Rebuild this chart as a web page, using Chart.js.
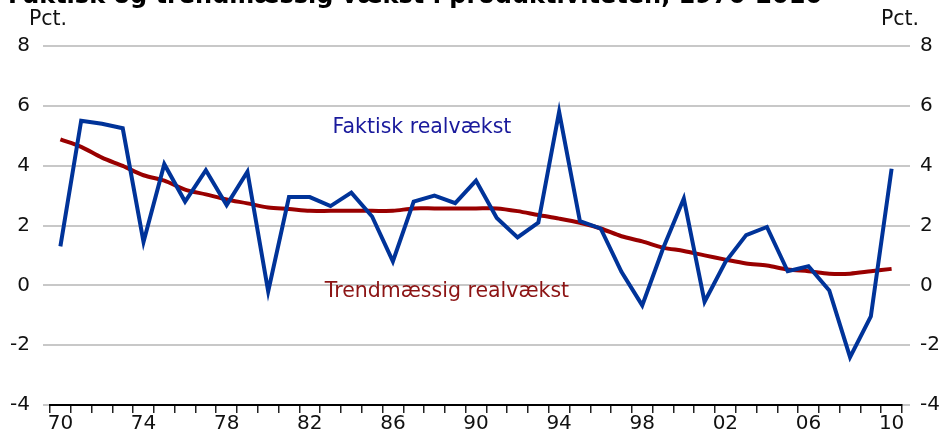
<!DOCTYPE html>
<html>
<head>
<meta charset="utf-8">
<script src="https://cdn.jsdelivr.net/npm/chart.js@4.4.0/dist/chart.umd.min.js"></script>
<style>
  html, body { margin: 0; padding: 0; background: #fff; }
  #wrap { position: relative; width: 943px; height: 432px; }
</style>
</head>
<body>
<div id="wrap"><canvas id="chart" width="943" height="432"></canvas></div>
<script>
// aar 1970-2010
const years = ['70','71','72','73','74','75','76','77','78','79',
               '80','81','82','83','84','85','86','87','88','89',
               '90','91','92','93','94','95','96','97','98','99',
               '00','01','02','03','04','05','06','07','08','09','10'];

// faktisk realvaekst i produktiviteten (pct.)
const faktisk = [1.3, 5.5, 5.4, 5.25, 1.45, 4.05, 2.8, 3.85, 2.68, 3.8,
                 -0.2, 2.95, 2.95, 2.65, 3.1, 2.3, 0.8, 2.8, 3.0, 2.75,
                 3.5, 2.25, 1.6, 2.1, 5.8, 2.15, 1.9, 0.45, -0.67, 1.23,
                 2.9, -0.55, 0.78, 1.68, 1.95, 0.47, 0.64, -0.17, -2.4, -1.04, 3.9];

// trendmaessig realvaekst (pct.)
const trend = [4.88, 4.63, 4.27, 3.99, 3.68, 3.5, 3.2, 3.04, 2.87, 2.74,
               2.6, 2.55, 2.49, 2.49, 2.49, 2.49, 2.49, 2.57, 2.57, 2.57,
               2.57, 2.57, 2.48, 2.35, 2.23, 2.09, 1.9, 1.64, 1.47, 1.26,
               1.15, 1.0, 0.86, 0.73, 0.66, 0.53, 0.47, 0.39, 0.39, 0.47, 0.55];

const yTicks = [-4, -2, 0, 2, 4, 6, 8];
const labelEvery = 4;

const titleText = 'Faktisk og trendmæssig vækst i produktiviteten, 1970-2010';
const unitText = 'Pct.';
const FONT = "'DejaVu Sans', Verdana, sans-serif";

// tekster i figuren: titel, enhed og serie-navne
const textPlugin = {
    id: 'texts',
    afterDraw(chart) {
        const ctx = chart.ctx;
        const area = chart.chartArea;
        const x = chart.scales.x, y = chart.scales.y;
        ctx.save();
        ctx.font = 'bold 24px ' + FONT;
        ctx.fillStyle = '#000';
        ctx.textAlign = 'left';
        ctx.textBaseline = 'alphabetic';
        ctx.fillText(titleText, 8, 3);

        ctx.font = '20.5px ' + FONT;
        ctx.fillStyle = '#111';
        ctx.textAlign = 'center';
        ctx.textBaseline = 'middle';
        ctx.fillText(unitText, area.left - 2, area.top - 26);
        ctx.fillText(unitText, area.right - 2, area.top - 26);

        ctx.fillStyle = '#1a1a9c';
        ctx.fillText('Faktisk realvækst', x.getPixelForValue(17.4), y.getPixelForValue(5.26));
        ctx.fillStyle = '#8c1414';
        ctx.fillText('Trendmæssig realvækst', x.getPixelForValue(18.6), y.getPixelForValue(-0.22));
        ctx.restore();
    }
};

document.addEventListener('DOMContentLoaded', () => {
    const ctx = document.getElementById('chart').getContext('2d');
    const tickFont = { family: FONT, size: 20, lineHeight: 1 };
    new Chart(ctx, {
        type: 'line',
        data: {
            labels: years,
            datasets: [
                { label: 'Faktisk realvækst', data: faktisk, borderColor: '#003399', borderWidth: 4,
                  pointRadius: 0, tension: 0, fill: false, yAxisID: 'y' },
                { label: 'Trendmæssig realvækst', data: trend, borderColor: '#990000', borderWidth: 4,
                  pointRadius: 0, tension: 0.3, fill: false, yAxisID: 'y' }
            ]
        },
        options: {
            responsive: false,
            animation: false,
            events: [],
            layout: { padding: { top: 46, left: 10, right: 3, bottom: 0 } },
            plugins: { legend: { display: false }, tooltip: { enabled: false }, title: { display: false } },
            scales: {
                x: {
                    type: 'category',
                    offset: true,
                    afterFit: axis => { axis.height = 27; },
                    border: { display: true, color: '#000', width: 2 },
                    grid: { offset: true, drawOnChartArea: false, drawTicks: true, tickLength: 8, color: '#222', lineWidth: 1.5 },
                    ticks: {
                        autoSkip: false, maxRotation: 0, padding: 1, color: '#111', font: tickFont,
                        callback: (v, i) => (i % labelEvery === 0 ? years[i] : '')
                    }
                },
                y: {
                    position: 'left',
                    min: -4, max: 8,
                    afterBuildTicks: axis => { axis.ticks = yTicks.map(v => ({ value: v })); },
                    afterFit: axis => { axis.width = 40; },
                    border: { display: false },
                    grid: { color: '#c8c8c8', lineWidth: 2, drawTicks: true, tickLength: 7 },
                    ticks: { padding: 13, color: '#111', font: tickFont }
                },
                y2: {
                    position: 'right',
                    min: -4, max: 8,
                    afterBuildTicks: axis => { axis.ticks = yTicks.map(v => ({ value: v })); },
                    afterFit: axis => { axis.width = 38; },
                    border: { display: false },
                    grid: { color: '#c8c8c8', lineWidth: 2, drawOnChartArea: false, drawTicks: true, tickLength: 8 },
                    ticks: { padding: 10, color: '#111', font: tickFont }
                }
            }
        },
        plugins: [textPlugin]
    });
});
</script>
</body>
</html>
